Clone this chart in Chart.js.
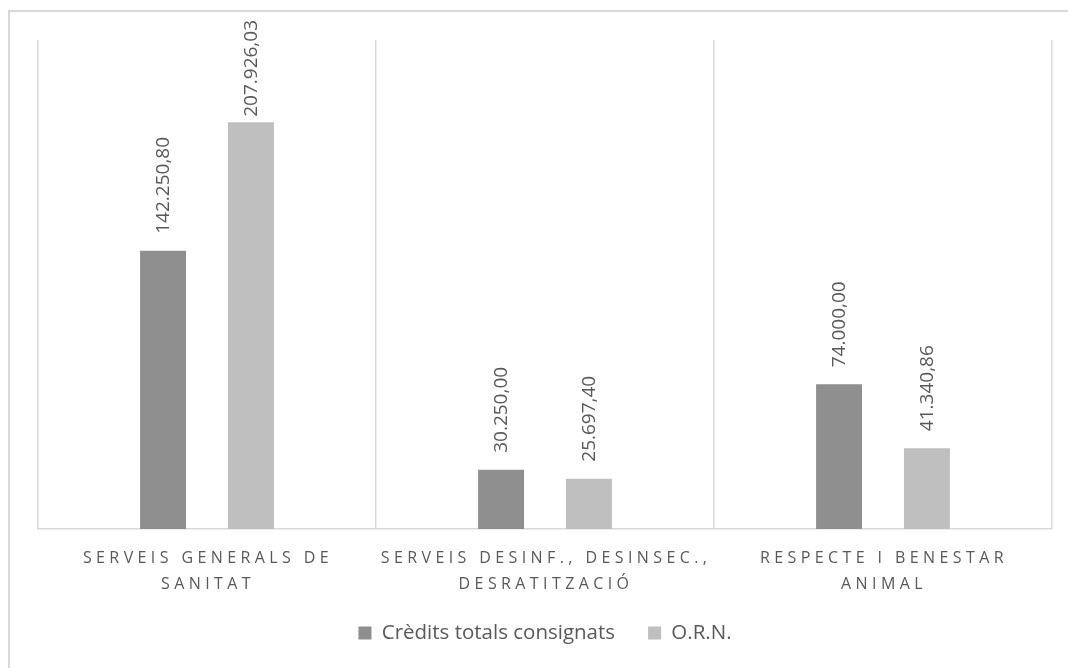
<!DOCTYPE html>
<html>
<head>
<meta charset="utf-8">
<script src="https://cdn.jsdelivr.net/npm/chart.js@4"></script>
<style>
  html, body { margin: 0; padding: 0; background: #fff; overflow: hidden; }
  #frame {
    position: absolute; left: 8px; top: 10px; width: 1200px; height: 800px;
    border-left: 2px solid #d9d9d9; border-top: 2px solid #d9d9d9;
  }
  #wrap { position: absolute; left: 0; top: 0; width: 1068px; height: 668px; }
</style>
</head>
<body>
<div id="frame"></div>
<div id="wrap"><canvas id="chart"></canvas></div>
<script>
// Data
const categories = [
  ["SERVEIS GENERALS DE", "SANITAT"],
  ["SERVEIS DESINF., DESINSEC.,", "DESRATITZACIÓ"],
  ["RESPECTE I BENESTAR", "ANIMAL"]
];
const seriesNames = ["Crèdits totals consignats", "O.R.N."];
const credits = [142250.80, 30250.00, 74000.00];
const orn = [207926.03, 25697.40, 41340.86];

const textColor = "#595959";
const fontFamily = "'Open Sans', sans-serif";

// 142250.8 -> "142.250,80"
function fmt(v) {
  const parts = v.toFixed(2).split(".");
  const int = parts[0].replace(/\B(?=(\d{3})+(?!\d))/g, ".");
  return int + "," + parts[1];
}

// rotated value labels above the bars (kept inside the frame like Excel does)
const valueLabels = {
  id: "valueLabels",
  afterDatasetsDraw(chart) {
    const ctx = chart.ctx;
    ctx.save();
    ctx.fillStyle = textColor;
    ctx.font = "19px " + fontFamily;
    ctx.textAlign = "left";
    ctx.textBaseline = "middle";
    chart.data.datasets.forEach((ds, di) => {
      chart.getDatasetMeta(di).data.forEach((bar, i) => {
        const txt = fmt(ds.data[i]);
        const w = ctx.measureText(txt).width;
        const start = Math.max(bar.y - 17, 20 + w);
        ctx.save();
        ctx.translate(bar.x + 1, start);
        ctx.rotate(-Math.PI / 2);
        ctx.fillText(txt, 0, 0);
        ctx.restore();
      });
    });
    ctx.restore();
  }
};

// letter-spaced category labels under the axis
const categoryLabels = {
  id: "categoryLabels",
  afterDraw(chart) {
    const ctx = chart.ctx;
    const xs = chart.scales.x;
    ctx.save();
    ctx.fillStyle = textColor;
    ctx.font = "16px " + fontFamily;
    ctx.letterSpacing = "4.4px";
    ctx.textAlign = "center";
    ctx.textBaseline = "middle";
    categories.forEach((lines, i) => {
      const x = xs.getPixelForValue(i) + 1;
      lines.forEach((line, j) => {
        ctx.fillText(line, x, xs.top + 29 + j * 26);
      });
    });
    ctx.restore();
  }
};

new Chart(document.getElementById("chart"), {
  type: "bar",
  data: {
    labels: categories,
    datasets: [
      { label: seriesNames[0], data: credits, backgroundColor: "#8f8f8f" },
      { label: seriesNames[1], data: orn, backgroundColor: "#bfbfbf" }
    ]
  },
  options: {
    responsive: true,
    maintainAspectRatio: false,
    animation: false,
    layout: { padding: { left: 38, right: 16, top: 40, bottom: 14.75 } },
    datasets: { bar: { categoryPercentage: 0.52, barPercentage: 0.523 } },
    scales: {
      x: {
        grid: { offset: true, color: "#d9d9d9", lineWidth: 1.5, drawTicks: false },
        border: { color: "#d9d9d9", width: 1.5 },
        ticks: { display: false },
        afterFit(scale) { scale.height = 60.75; }
      },
      y: { display: false, min: 0, max: 250000 }
    },
    plugins: {
      legend: {
        position: "bottom",
        labels: {
          color: textColor,
          font: { family: fontFamily, size: 20.5 },
          boxWidth: 13,
          boxHeight: 13,
          padding: 33
        }
      },
      tooltip: { enabled: false }
    }
  },
  plugins: [valueLabels, categoryLabels]
});
</script>
</body>
</html>
